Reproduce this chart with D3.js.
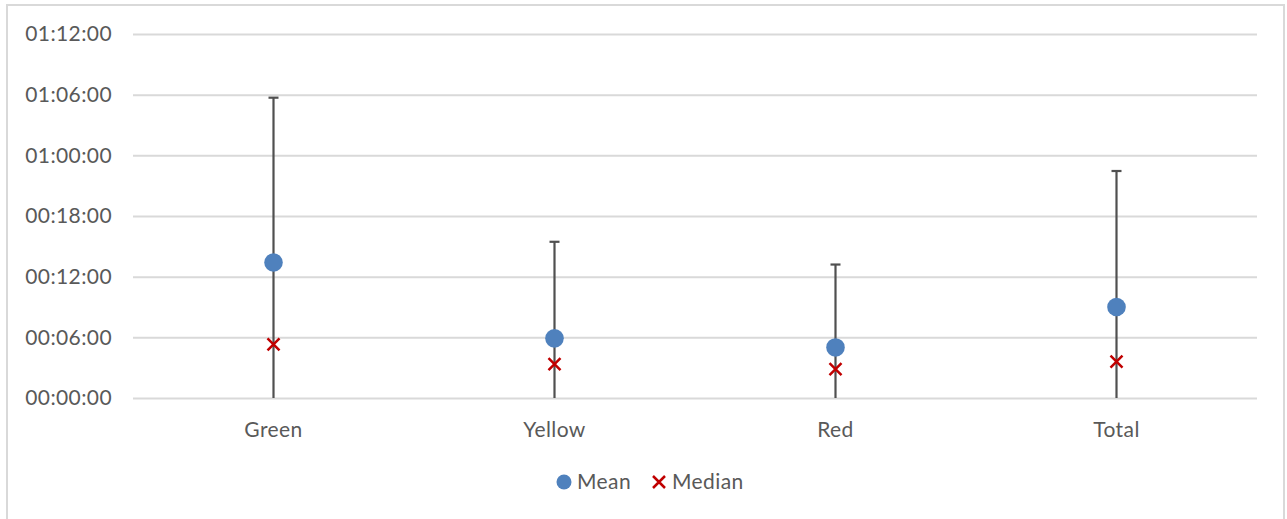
<!DOCTYPE html>
<html>
<head>
<meta charset="utf-8">
<script src="https://cdnjs.cloudflare.com/ajax/libs/d3/7.8.5/d3.min.js"></script>
<style>
  html, body { margin: 0; padding: 0; background: #fff; }
  svg { display: block; }
  text { font-family: Lato, "Open Sans", sans-serif; fill: #595959; }
</style>
</head>
<body>
<svg id="chart" width="1287" height="519"></svg>
<script>
// ---- data ----
const categories = ["Green", "Yellow", "Red", "Total"];
const meanValues = [13.4, 5.9, 5.0, 9.0];
const medianValues = [5.3, 3.35, 2.85, 3.6];
const errorTop = [29.7, 15.45, 13.2, 22.45];
const tickValues = [0, 6, 12, 18, 24, 30, 36];
const tickLabels = ["00:00:00", "00:06:00", "00:12:00", "00:18:00", "01:00:00", "01:06:00", "01:12:00"];
const seriesNames = ["Mean", "Median"];

const FS = 21;
const LS = "0.4px";
const svg = d3.select("#chart");

// frame
svg.append("rect")
  .attr("x", 7).attr("y", 5).attr("width", 1277).attr("height", 530)
  .attr("fill", "#fff").attr("stroke", "#D9D9D9").attr("stroke-width", 2);

const x = d3.scaleBand().domain(categories).range([133, 1257]);
const y = d3.scaleLinear().domain([0, 36]).range([398, 34]);

// y axis as gridlines
const yAxis = d3.axisLeft(y)
  .tickValues(tickValues)
  .tickSize(-(1257 - 133))
  .tickPadding(21)
  .tickFormat((d, i) => tickLabels[i]);
const gy = svg.append("g").attr("transform", "translate(133,0)").call(yAxis);
gy.select(".domain").remove();
gy.selectAll(".tick line").attr("stroke", "#D9D9D9").attr("stroke-width", 2);
gy.selectAll(".tick text").attr("font-size", FS).style("fill", "#595959")
  .style("letter-spacing", LS)
  .attr("font-family", "Lato, 'Open Sans', sans-serif");

// x axis labels
const xAxis = d3.axisBottom(x).tickSize(0).tickPadding(24);
const gx = svg.append("g").attr("transform", "translate(0,398)").call(xAxis);
gx.select(".domain").remove();
gx.selectAll(".tick text").attr("font-size", FS).style("fill", "#595959")
  .style("letter-spacing", LS)
  .attr("font-family", "Lato, 'Open Sans', sans-serif");

const cx = d => x(d) + x.bandwidth() / 2;

// error bars
const eb = svg.append("g");
categories.forEach((c, i) => {
  eb.append("line")
    .attr("x1", cx(c)).attr("x2", cx(c))
    .attr("y1", y(0)).attr("y2", y(errorTop[i]))
    .attr("stroke", "#505050").attr("stroke-width", 2.2);
  eb.append("line")
    .attr("x1", cx(c) - 5).attr("x2", cx(c) + 5)
    .attr("y1", y(errorTop[i])).attr("y2", y(errorTop[i]))
    .attr("stroke", "#505050").attr("stroke-width", 2.2);
});

// mean points
svg.append("g").selectAll("circle").data(categories).join("circle")
  .attr("cx", d => cx(d))
  .attr("cy", (d, i) => y(meanValues[i]))
  .attr("r", 9.3)
  .attr("fill", "#4F81BD");

// median x markers
const xs = 6;
const med = svg.append("g");
categories.forEach((c, i) => {
  const px = cx(c), py = y(medianValues[i]);
  med.append("path")
    .attr("d", `M${px - xs},${py - xs}L${px + xs},${py + xs}M${px - xs},${py + xs}L${px + xs},${py - xs}`)
    .attr("stroke", "#C00000").attr("stroke-width", 2.5).attr("fill", "none");
});

// legend
const leg = svg.append("g");
leg.append("circle").attr("cx", 564).attr("cy", 482).attr("r", 7.5).attr("fill", "#4F81BD");
leg.append("text").attr("x", 577).attr("y", 482).attr("dy", "0.35em")
  .attr("font-size", FS).style("letter-spacing", LS).text(seriesNames[0]);
leg.append("path")
  .attr("d", `M${659 - 6},${482 - 6}L${659 + 6},${482 + 6}M${659 - 6},${482 + 6}L${659 + 6},${482 - 6}`)
  .attr("stroke", "#C00000").attr("stroke-width", 2.5).attr("fill", "none");
leg.append("text").attr("x", 672).attr("y", 482).attr("dy", "0.35em")
  .attr("font-size", FS).style("letter-spacing", LS).text(seriesNames[1]);
</script>
</body>
</html>
